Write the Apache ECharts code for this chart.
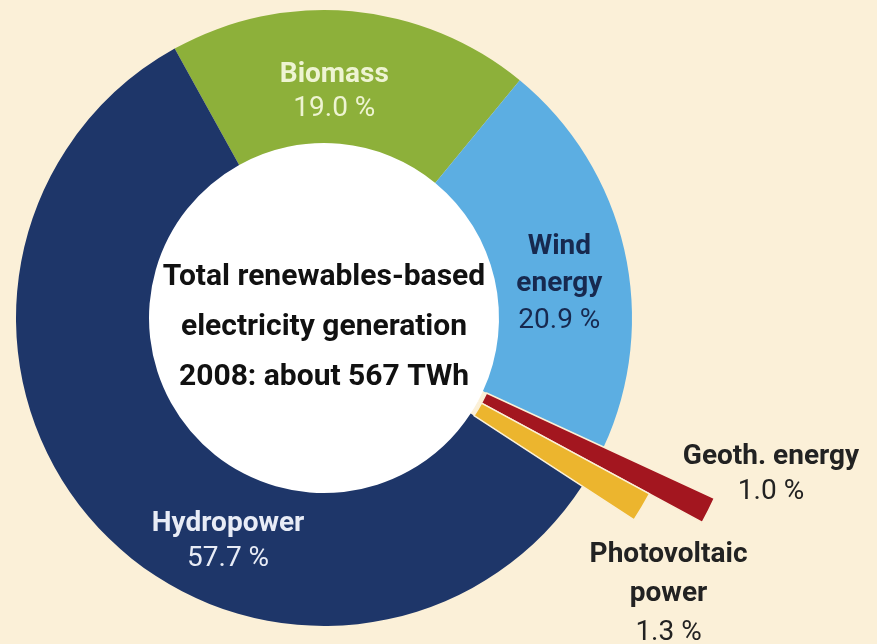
<!DOCTYPE html>
<html>
<head>
<meta charset="utf-8">
<script src="https://cdn.jsdelivr.net/npm/echarts@6/dist/echarts.min.js"></script>
<style>
html,body{margin:0;padding:0;background:#FBF0D8;}
#c{width:877px;height:644px;}
</style>
</head>
<body>
<div id="c"></div>
<script>
const categories = ['Biomass', 'Wind energy', 'Geoth. energy', 'Photovoltaic power', 'Hydropower'];
const labelNames = [['Biomass'], ['Wind', 'energy'], ['Geoth. energy'], ['Photovoltaic', 'power'], ['Hydropower']];
const shares = [19.0, 20.9, 1.0, 1.3, 57.7];
const centerLines = ['Total renewables-based', 'electricity generation', '2008: about 567 TWh'];

const BG = '#FBF0D8';
const colors = ['#8DB03A', '#5CAEE2', '#A3161F', '#ECB52E', '#1E3669'];
const labelColors = ['#EEF4D2', '#17294F', '#222222', '#222222', '#E8ECF6'];
const labelOffsets = [[-12, 17], [-3, 20], [172, 19], [106, 134], [83, 57]];
const labelLineHeights = [34, 37, 35, 39, 35];
const FONT = "Roboto, 'Noto Sans', sans-serif";
const CENTER = [324, 318];
const START = 119;

function fmt(i) {
  const lines = labelNames[i].map(l => '{n|' + l + '}');
  lines.push('{v|' + shares[i].toFixed(1) + ' %}');
  return lines.join('\n');
}
function rich(i) {
  return {
    n: {fontFamily: FONT, fontWeight: 'bold', fontSize: 28, color: labelColors[i], lineHeight: labelLineHeights[i]},
    v: {fontFamily: FONT, fontWeight: 'normal', fontSize: 28, color: labelColors[i], lineHeight: labelLineHeights[i]}
  };
}

const mainData = categories.map((name, i) => {
  const small = (i === 2 || i === 3);
  return {
    name: name,
    value: shares[i],
    itemStyle: {color: small ? BG : colors[i]},
    label: small ? {show: false} : {show: true, position: 'inside', formatter: fmt(i), rich: rich(i), offset: labelOffsets[i]}
  };
});

function overlayData(k) {
  return categories.map((name, i) => {
    if (i !== k) {
      return {name: name, value: shares[i], itemStyle: {color: 'rgba(0,0,0,0)', borderWidth: 0}, label: {show: false}};
    }
    return {
      name: name, value: shares[i],
      itemStyle: {color: colors[i], borderColor: BG, borderWidth: 1.5},
      label: {show: true, position: 'inside', formatter: fmt(i), rich: rich(i), offset: labelOffsets[i]}
    };
  });
}

const common = {type: 'pie', silent: true, center: CENTER, startAngle: START, clockwise: true,
  avoidLabelOverlap: false, labelLayout: {hideOverlap: false}, labelLine: {show: false}};

const chart = echarts.init(document.getElementById('c'));
chart.setOption({
  backgroundColor: BG,
  animation: false,
  series: [
    Object.assign({}, common, {
      radius: [0, 176],
      data: [{value: 1, name: 'total', itemStyle: {color: '#FFFFFF'}}],
      label: {show: true, position: 'center', formatter: centerLines.join('\n'), offset: [0, 9],
        fontFamily: FONT, fontWeight: 'bold', fontSize: 30, lineHeight: 50, color: '#111111'}
    }),
    Object.assign({}, common, {radius: [175, 308], data: mainData}),
    Object.assign({}, common, {radius: [179, 430], data: overlayData(2)}),
    Object.assign({}, common, {radius: [179, 370], data: overlayData(3)})
  ]
});
</script>
</body>
</html>
